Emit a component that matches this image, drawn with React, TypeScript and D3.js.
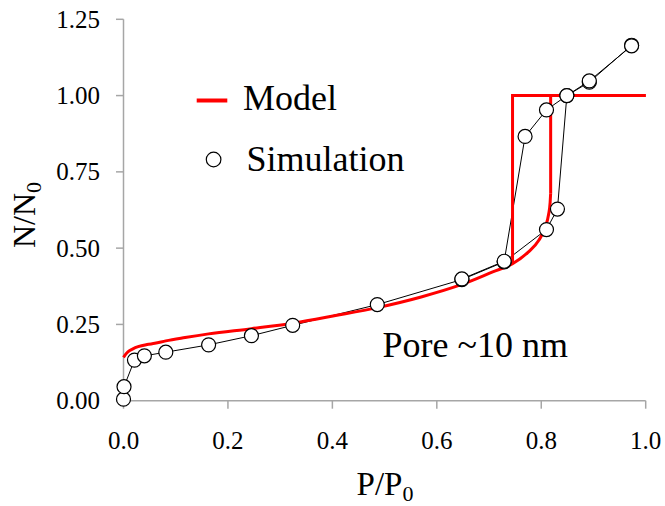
import React from "react";
import * as d3 from "d3";

const xTicks = [0, 0.2, 0.4, 0.6, 0.8, 1.0];
const yTicks = [0, 0.25, 0.5, 0.75, 1.0, 1.25];

// Simulation adsorption branch
const adsP = [0.0, 0.001, 0.021, 0.04, 0.081, 0.163, 0.245, 0.324, 0.486, 0.648, 0.729, 0.81, 0.831, 0.849, 0.892, 0.973];
const adsN = [0.005, 0.046, 0.133, 0.147, 0.159, 0.183, 0.213, 0.247, 0.315, 0.397, 0.455, 0.561, 0.628, 1.0, 1.044, 1.165];
// Simulation desorption branch
const desP = [0.973, 0.892, 0.849, 0.81, 0.769, 0.729, 0.648];
const desN = [1.163, 1.048, 1.0, 0.953, 0.866, 0.457, 0.399];

// Model curve (adsorption)
const modelP = [0, 0.004, 0.009, 0.018, 0.028, 0.045, 0.06, 0.081, 0.118, 0.163, 0.245, 0.324, 0.406, 0.486, 0.57, 0.648, 0.707, 0.745, 0.775, 0.795, 0.808, 0.814, 0.817, 0.818];
const modelN = [0.142, 0.152, 0.161, 0.17, 0.177, 0.184, 0.188, 0.196, 0.207, 0.219, 0.236, 0.254, 0.279, 0.305, 0.34, 0.381, 0.422, 0.449, 0.487, 0.525, 0.57, 0.61, 0.65, 0.68];
// Model step (adsorption jump and desorption drop)
const modelAdsStepP = [0.818, 0.818, 1.0];
const modelAdsStepN = [0.68, 1.0, 1.0];
const modelDesStepP = [1.0, 0.745, 0.745];
const modelDesStepN = [1.0, 1.0, 0.449];

const FONT = "Liberation Serif, Times New Roman, DejaVu Serif, serif";
const ts = { fontFamily: FONT };

export default function App() {
  const W = 665, H = 506;
  const x = d3.scaleLinear().domain([0, 1]).range([123.5, 645.7]);
  const y = d3.scaleLinear().domain([0, 1.25]).range([400.7, 19.3]);

  const line = d3.line<[number, number]>().x(d => x(d[0])).y(d => y(d[1]));
  const smooth = d3.line<[number, number]>().x(d => x(d[0])).y(d => y(d[1])).curve(d3.curveMonotoneX);

  const zip = (a: number[], b: number[]) => a.map((v, i) => [v, b[i]] as [number, number]);
  const ads = zip(adsP, adsN);
  const des = zip(desP, desN);
  const model = zip(modelP, modelN);

  const axisColor = "#a6a6a6";

  return (
    <svg width={W} height={H} style={{ position: "absolute", left: 0, top: 0, background: "#fff", fontFamily: FONT }}>
      {/* axes */}
      <line x1={x(0)} x2={x(0)} y1={y(1.25)} y2={y(0)} stroke={axisColor} strokeWidth={1.5} />
      <line x1={x(0)} x2={x(1)} y1={y(0)} y2={y(0)} stroke={axisColor} strokeWidth={1.5} />
      {yTicks.map(t => (
        <g key={"y" + t}>
          <line x1={x(0) - 7.5} x2={x(0)} y1={y(t)} y2={y(t)} stroke={axisColor} strokeWidth={1.5} />
          <text style={ts} x={100} y={y(t) + 8.5} textAnchor="end" fontSize={25} fill="#000">{t.toFixed(2)}</text>
        </g>
      ))}
      {xTicks.map(t => (
        <g key={"x" + t}>
          <line x1={x(t)} x2={x(t)} y1={y(0)} y2={y(0) + 8} stroke={axisColor} strokeWidth={1.5} />
          <text style={ts} x={x(t)} y={449} textAnchor="middle" fontSize={25} fill="#000">{t.toFixed(1)}</text>
        </g>
      ))}

      {/* axis titles */}
      <text style={ts} x={385} y={495} textAnchor="middle" fontSize={33} fill="#000">
        P/P<tspan fontSize={22} dy={6}>0</tspan>
      </text>
      <text style={ts} transform="translate(35,215) rotate(-90)" textAnchor="middle" fontSize={32} fill="#000">
        N/N<tspan fontSize={22} dy={6}>0</tspan>
      </text>

      {/* simulation lines */}
      <path d={line(ads) || ""} fill="none" stroke="#000" strokeWidth={1} />
      <path d={line(des) || ""} fill="none" stroke="#000" strokeWidth={1} />

      {/* model */}
      <path d={smooth(model) || ""} fill="none" stroke="#ff0000" strokeWidth={3} />
      <path d={line(zip(modelAdsStepP, modelAdsStepN)) || ""} fill="none" stroke="#ff0000" strokeWidth={3} />
      <path d={line(zip(modelDesStepP, modelDesStepN)) || ""} fill="none" stroke="#ff0000" strokeWidth={3} />

      {/* simulation markers */}
      {ads.concat(des).map((d, i) => (
        <circle key={"c" + i} cx={x(d[0])} cy={y(d[1])} r={7} fill="#fff" stroke="#000" strokeWidth={1.2} />
      ))}

      {/* legend */}
      <line x1={196.7} x2={227.3} y1={100.5} y2={100.5} stroke="#ff0000" strokeWidth={4} />
      <text style={ts} x={243} y={110} fontSize={36} fill="#000">Model</text>
      <circle cx={213.6} cy={159.5} r={7.3} fill="#fff" stroke="#000" strokeWidth={1.2} />
      <text style={ts} x={246.5} y={171} fontSize={36} fill="#000">Simulation</text>

      {/* annotation */}
      <text style={ts} x={382.5} y={357.3} fontSize={36} fill="#000">Pore ~10 nm</text>
    </svg>
  );
}
